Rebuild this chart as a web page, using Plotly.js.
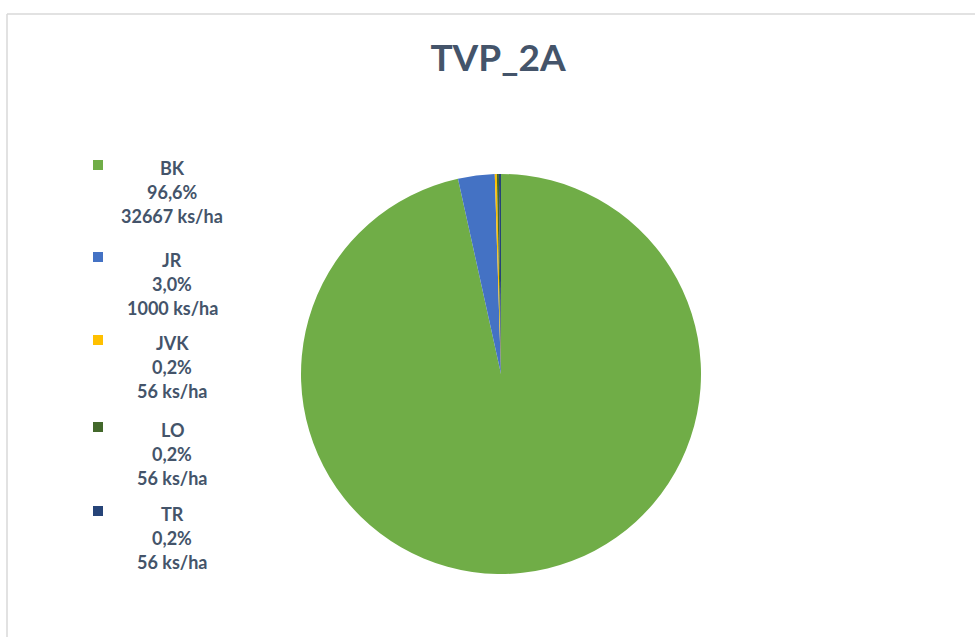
<!DOCTYPE html>
<html>
<head>
<meta charset="utf-8">
<script src="https://cdn.plot.ly/plotly-3.0.1.min.js"></script>
<style>html,body{margin:0;padding:0;background:#fff;}#chart{width:975px;height:637px;}</style>
</head>
<body>
<div id="chart"></div>
<script>
// ---- data ----
const categories = ["BK", "JR", "JVK", "LO", "TR"];
const densities = [32667, 1000, 56, 56, 56];            // ks/ha
const percentLabels = ["96,6%", "3,0%", "0,2%", "0,2%", "0,2%"];
const colors = ["#70AD47", "#4472C4", "#FFC000", "#43682B", "#264478"];
const chartTitle = "TVP_2A";

// ---- layout constants ----
const W = 975, H = 637;
const textColor = "#44546A";
const legendCenterX = 172;            // px
const legendFirstLineY = [168, 260, 343, 430, 514]; // px, first line of each entry
const lineGap = 24;
const markerX = [93, 103];

const py = v => 1 - v / H;
const px = v => v / W;

const annotations = [];
const shapes = [];
categories.forEach((c, i) => {
  const lines = [c, percentLabels[i], densities[i] + " ks/ha"];
  lines.forEach((t, j) => {
    annotations.push({
      text: "<b>" + t + "</b>", xref: "paper", yref: "paper",
      x: px(legendCenterX), y: py(legendFirstLineY[i] + j * lineGap),
      xanchor: "center", yanchor: "middle", showarrow: false,
      font: {family: "Lato, 'Open Sans', sans-serif", size: 18, color: textColor}
    });
  });
  const my = legendFirstLineY[i] - 3;
  shapes.push({
    type: "rect", xref: "paper", yref: "paper",
    x0: px(markerX[0]), x1: px(markerX[1]), y0: py(my - 5), y1: py(my + 5),
    fillcolor: colors[i], line: {width: 0}
  });
});
// frame lines (top and left, light grey)
shapes.push({type: "line", xref: "paper", yref: "paper", x0: px(7), x1: 1, y0: py(14), y1: py(14), line: {color: "#D9D9D9", width: 1.5}});
shapes.push({type: "line", xref: "paper", yref: "paper", x0: px(7), x1: px(7), y0: py(14), y1: 0, line: {color: "#D9D9D9", width: 1.5}});

const trace = {
  type: "pie",
  labels: categories,
  values: densities,
  marker: {colors: colors, line: {color: "#ffffff", width: 0}},
  sort: false,
  direction: "clockwise",
  rotation: 0,
  textinfo: "none",
  hoverinfo: "label+value+percent",
  domain: {x: [px(301), px(701)], y: [py(574), py(174)]},
  showlegend: false
};

const layout = {
  width: W, height: H,
  margin: {l: 0, r: 0, t: 0, b: 0},
  paper_bgcolor: "#ffffff",
  title: {
    text: "<b>" + chartTitle + "</b>",
    x: px(498), xanchor: "center",
    y: py(58), yanchor: "middle", yref: "container",
    font: {family: "Lato, 'Open Sans', sans-serif", size: 37, color: textColor}
  },
  annotations: annotations,
  shapes: shapes,
  showlegend: false
};

Plotly.newPlot("chart", [trace], layout, {displayModeBar: false, staticPlot: true});
</script>
</body>
</html>
